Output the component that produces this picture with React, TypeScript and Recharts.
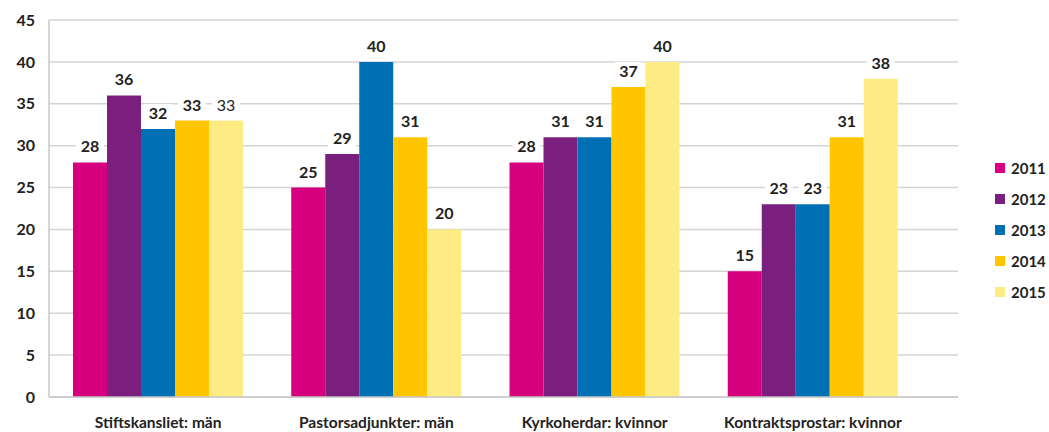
import { BarChart, Bar, XAxis, YAxis, CartesianGrid, Legend, LabelList } from 'recharts';

const categories = ['Stiftskansliet: män', 'Pastorsadjunkter: män', 'Kyrkoherdar: kvinnor', 'Kontraktsprostar: kvinnor'];
const years = ['2011', '2012', '2013', '2014', '2015'];
const v2011 = [28, 25, 28, 15];
const v2012 = [36, 29, 31, 23];
const v2013 = [32, 40, 31, 23];
const v2014 = [33, 31, 37, 31];
const v2015 = [33, 20, 40, 38];
const yTicks = [0, 5, 10, 15, 20, 25, 30, 35, 40, 45];

const colors = ['#d6007e', '#7a1f7d', '#0070b4', '#ffc600', '#fdec84'];
const seriesValues = [v2011, v2012, v2013, v2014, v2015];

const data = categories.map((name, i) => {
  const row: Record<string, any> = { name };
  years.forEach((y, k) => {
    row[y] = seriesValues[k][i];
  });
  return row;
});

const FONT = 'Lato, "Open Sans", sans-serif';

const ValueLabel = (props: any) => {
  const { x, y, width, value, index, light } = props;
  const weight = light && index === 0 ? 400 : 700;
  return (
    <g>
      <rect x={x + width / 2 - 14} y={y - 25} width={28} height={19} fill="#fff" />
      <text
        x={x + width / 2}
        y={y - 10}
        textAnchor="middle"
        fontFamily={FONT}
        fontSize={16}
        fontWeight={weight}
        fill="#222"
      >
        {value}
      </text>
    </g>
  );
};

const LegendBox = () => (
  <div style={{ fontFamily: FONT, fontWeight: 700, fontSize: 15, color: '#222' }}>
    {years.map((y, k) => (
      <div key={y} style={{ display: 'flex', alignItems: 'center', height: 31 }}>
        <span style={{ width: 10, height: 10, background: colors[k], marginRight: 6, display: 'inline-block' }} />
        {y}
      </div>
    ))}
  </div>
);

export default function App() {
  return (
    <div style={{ position: 'absolute', left: 0, top: 0, background: '#fff' }}>
      <BarChart
        width={1049}
        height={432}
        data={data}
        margin={{ top: 20, right: 37, left: 0, bottom: 5 }}
        barCategoryGap={24}
        barGap={0}
      >
        <CartesianGrid vertical={false} stroke="#d4d4d4" strokeWidth={1.5} />
        <XAxis
          dataKey="name"
          padding={{ left: 0, right: 36 }}
          tickLine={false}
          axisLine={{ stroke: '#c8c8c8', strokeWidth: 1.5 }}
          tickMargin={14}
          interval={0}
          tick={{ fontFamily: FONT, fontSize: 15.5, fontWeight: 700, fill: '#222' }}
        />
        <YAxis
          domain={[0, 45]}
          ticks={yTicks}
          width={49}
          tickLine={false}
          tickSize={0}
          tickMargin={14}
          axisLine={{ stroke: '#c8c8c8', strokeWidth: 1.5 }}
          tick={{ fontFamily: FONT, fontSize: 16, fontWeight: 700, fill: '#222' }}
        />
        <Legend
          layout="vertical"
          align="right"
          verticalAlign="middle"
          content={LegendBox}
          wrapperStyle={{ right: 0, width: 54, top: 152 }}
        />
        {years.map((y, k) => (
          <Bar key={y} dataKey={y} fill={colors[k]} isAnimationActive={false}>
            <LabelList dataKey={y} content={(p: any) => <ValueLabel {...p} light={k === 4} />} />
          </Bar>
        ))}
      </BarChart>
    </div>
  );
}
